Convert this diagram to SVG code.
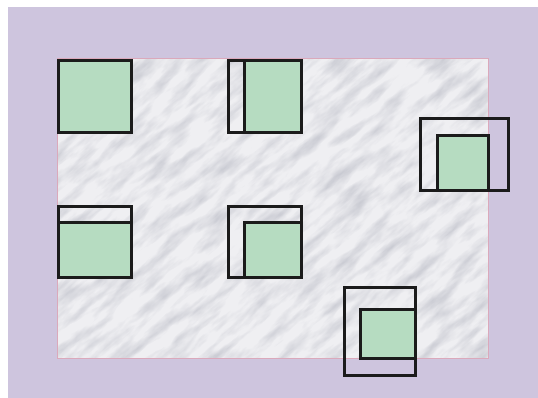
<svg xmlns="http://www.w3.org/2000/svg" width="538" height="398" viewBox="0 0 538 398">
<defs>
<filter id="marble" x="0" y="0" width="100%" height="100%" filterUnits="objectBoundingBox">
<feTurbulence type="fractalNoise" baseFrequency="0.025 0.09" numOctaves="5" seed="11"/>
<feColorMatrix type="matrix" values="0 0 0 0 0.5  0 0 0 0 0.51  0 0 0 0 0.57  -1.5 0 0 0 0.9"/>
</filter>
<clipPath id="slabclip"><rect x="57" y="58" width="432" height="301"/></clipPath>
</defs>
<style>
.frame{fill:none;stroke:#1b1b1b;stroke-width:3}
.green{fill:#b6dcc1;stroke:#1b1b1b;stroke-width:3}
.greenfill{fill:#b6dcc1}
.line{stroke:#1b1b1b;stroke-width:3}
</style>
<rect x="0" y="0" width="538" height="398" fill="#ffffff"/>
<rect x="8" y="7" width="530" height="391" fill="#cec5de"/>
<g id="marble-slab">
<rect x="57" y="58" width="432" height="301" fill="#efeff2"/>
<g clip-path="url(#slabclip)">
<rect x="-100" y="-100" width="740" height="600" fill="#000" filter="url(#marble)" transform="rotate(-40 273 208)"/>
</g>
<rect x="57.5" y="58.5" width="431" height="300" fill="none" stroke="#dba9bb" stroke-width="1"/>
</g>
<g id="connectors"></g>
<g id="node1">
<rect class="green" x="58.5" y="60.5" width="73" height="72"/>
</g>
<g id="node2">
<rect class="greenfill" x="244.5" y="60.5" width="57" height="72"/>
<rect class="frame" x="228.5" y="60.5" width="73" height="72"/>
<line class="line" x1="244.5" y1="60.5" x2="244.5" y2="132.5"/>
</g>
<g id="node3">
<rect class="green" x="437.5" y="135.5" width="51" height="55"/>
<rect class="frame" x="420.5" y="118.5" width="88" height="72"/>
</g>
<g id="node4">
<rect class="greenfill" x="58.5" y="222.5" width="73" height="55"/>
<rect class="frame" x="58.5" y="206.5" width="73" height="71"/>
<line class="line" x1="58.5" y1="222.5" x2="131.5" y2="222.5"/>
</g>
<g id="node5">
<rect class="green" x="244.5" y="222.5" width="57" height="55"/>
<rect class="frame" x="228.5" y="206.5" width="73" height="71"/>
</g>
<g id="node6">
<rect class="green" x="360.5" y="309.5" width="55" height="49"/>
<rect class="frame" x="344.5" y="287.5" width="71" height="88"/>
</g>
</svg>
